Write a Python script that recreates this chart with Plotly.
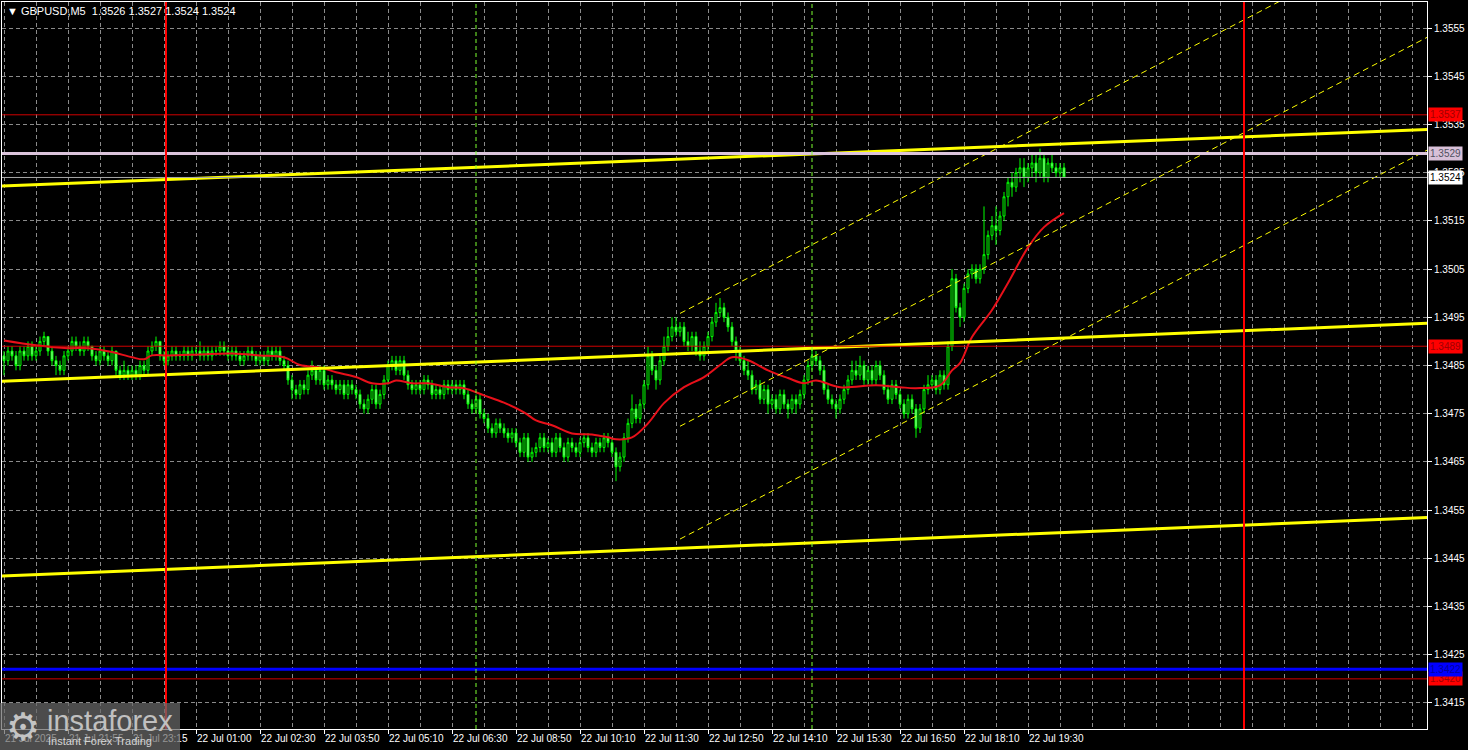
import plotly.graph_objects as go

W, H = 1468, 750
ML, MR, MT, MB = 2, 41, 2, 21

# ---------------- data ----------------
symbol_title = "GBPUSD,M5"
first_open = 1.3487

close = [
    1.3486, 1.3488, 1.3487, 1.3485, 1.3488, 1.3487, 1.3489, 1.3487,
    1.3488, 1.3490, 1.3491, 1.3488, 1.3486, 1.3485, 1.3484, 1.3487,
    1.3488, 1.3490, 1.3489, 1.3488, 1.3490, 1.3489, 1.3487, 1.3486,
    1.3488, 1.3487, 1.3486, 1.3488, 1.3484, 1.3483, 1.3484, 1.3483,
    1.3484, 1.3483, 1.3485, 1.3484, 1.3488, 1.3489, 1.3490, 1.3487,
    1.3486, 1.3487, 1.3488, 1.3487, 1.3487, 1.3488, 1.3487, 1.3488,
    1.3488, 1.3487, 1.3488, 1.3487, 1.3488, 1.3488, 1.3489, 1.3488,
    1.3487, 1.3488, 1.3487, 1.3486, 1.3487, 1.3488, 1.3487, 1.3486,
    1.3487, 1.3486, 1.3488, 1.3487, 1.3488, 1.3486, 1.3485, 1.3482,
    1.3480, 1.3479, 1.3481, 1.3480, 1.3483, 1.3484, 1.3482, 1.3484,
    1.3481, 1.3482, 1.3481, 1.3480, 1.3481, 1.3479, 1.3481, 1.3480,
    1.3479, 1.3477, 1.3476, 1.3478, 1.3480, 1.3477, 1.3479, 1.3482,
    1.3485, 1.3486, 1.3484, 1.3486, 1.3483, 1.3481, 1.3480, 1.3481,
    1.3480, 1.3482, 1.3481, 1.3479, 1.3480, 1.3479, 1.3481, 1.3480,
    1.3481, 1.3480, 1.3481, 1.3479, 1.3477, 1.3476, 1.3478, 1.3475,
    1.3474, 1.3472, 1.3471, 1.3473, 1.3472, 1.3471, 1.3470, 1.3471,
    1.3469, 1.3467, 1.3470, 1.3466, 1.3467, 1.3468, 1.3470, 1.3468,
    1.3469, 1.3467, 1.3470, 1.3468, 1.3466, 1.3469, 1.3468, 1.3467,
    1.3469, 1.3470, 1.3468, 1.3467, 1.3469, 1.3468, 1.3470, 1.3469,
    1.3467, 1.3464, 1.3466, 1.3470, 1.3473, 1.3476, 1.3474, 1.3477,
    1.3481, 1.3487, 1.3484, 1.3482, 1.3486, 1.3489, 1.3491, 1.3493,
    1.3492, 1.3493, 1.3490, 1.3489, 1.3491, 1.3488, 1.3487, 1.3489,
    1.3491, 1.3494, 1.3496, 1.3497, 1.3495, 1.3493, 1.3490, 1.3488,
    1.3486, 1.3484, 1.3483, 1.3480, 1.3481, 1.3478, 1.3480, 1.3477,
    1.3478, 1.3476, 1.3479, 1.3477, 1.3476, 1.3478, 1.3477, 1.3479,
    1.3482, 1.3485, 1.3487, 1.3486, 1.3484, 1.3480, 1.3478, 1.3477,
    1.3476, 1.3478, 1.3480, 1.3482, 1.3484, 1.3483, 1.3485, 1.3482,
    1.3484, 1.3482, 1.3485, 1.3483, 1.3480, 1.3478, 1.3481, 1.3479,
    1.3477, 1.3475, 1.3478, 1.3476, 1.3472, 1.3476, 1.3480, 1.3481,
    1.3482, 1.3480, 1.3483, 1.3481, 1.3489, 1.3503, 1.3497, 1.3495,
    1.3501, 1.3504, 1.3505, 1.3503, 1.3505, 1.3508, 1.3512, 1.3514,
    1.3513, 1.3516, 1.3520, 1.3523, 1.3522, 1.3525, 1.3526, 1.3524,
    1.3526, 1.3527, 1.3525, 1.3528, 1.3524, 1.3527, 1.3526, 1.3525,
    1.3526, 1.3524,
]

high = [
    1.3488, 1.3489, 1.3489, 1.3488, 1.3489, 1.3489, 1.3490, 1.3490,
    1.3489, 1.3491, 1.3492, 1.3491, 1.3489, 1.3487, 1.3486, 1.3488,
    1.3489, 1.3491, 1.3491, 1.3490, 1.3491, 1.3491, 1.3489, 1.3488,
    1.3489, 1.3489, 1.3488, 1.3489, 1.3488, 1.3485, 1.3486, 1.3485,
    1.3485, 1.3485, 1.3486, 1.3486, 1.3489, 1.3490, 1.3491, 1.3490,
    1.3488, 1.3488, 1.3489, 1.3489, 1.3488, 1.3489, 1.3489, 1.3489,
    1.3489, 1.3490, 1.3489, 1.3489, 1.3489, 1.3489, 1.3490, 1.3490,
    1.3489, 1.3489, 1.3489, 1.3488, 1.3488, 1.3489, 1.3489, 1.3488,
    1.3488, 1.3488, 1.3489, 1.3489, 1.3489, 1.3489, 1.3487, 1.3486,
    1.3483, 1.3481, 1.3482, 1.3482, 1.3484, 1.3486, 1.3485, 1.3485,
    1.3485, 1.3483, 1.3483, 1.3482, 1.3482, 1.3482, 1.3482, 1.3482,
    1.3481, 1.3480, 1.3478, 1.3479, 1.3481, 1.3481, 1.3480, 1.3483,
    1.3486, 1.3487, 1.3487, 1.3487, 1.3487, 1.3484, 1.3482, 1.3482,
    1.3482, 1.3483, 1.3483, 1.3482, 1.3481, 1.3481, 1.3482, 1.3482,
    1.3482, 1.3482, 1.3482, 1.3482, 1.3480, 1.3478, 1.3479, 1.3479,
    1.3476, 1.3475, 1.3473, 1.3474, 1.3474, 1.3473, 1.3472, 1.3472,
    1.3472, 1.3470, 1.3471, 1.3471, 1.3468, 1.3469, 1.3471, 1.3471,
    1.3470, 1.3470, 1.3471, 1.3471, 1.3469, 1.3470, 1.3470, 1.3469,
    1.3470, 1.3471, 1.3471, 1.3469, 1.3470, 1.3470, 1.3471, 1.3471,
    1.3470, 1.3468, 1.3467, 1.3471, 1.3474, 1.3479, 1.3477, 1.3478,
    1.3482, 1.3489, 1.3488, 1.3485, 1.3487, 1.3491, 1.3493, 1.3495,
    1.3495, 1.3494, 1.3494, 1.3492, 1.3492, 1.3492, 1.3490, 1.3490,
    1.3492, 1.3495, 1.3498, 1.3499, 1.3498, 1.3496, 1.3494, 1.3491,
    1.3489, 1.3487, 1.3486, 1.3484, 1.3482, 1.3482, 1.3481, 1.3481,
    1.3479, 1.3479, 1.3480, 1.3480, 1.3478, 1.3479, 1.3479, 1.3480,
    1.3483, 1.3486, 1.3489, 1.3488, 1.3487, 1.3485, 1.3481, 1.3479,
    1.3478, 1.3479, 1.3481, 1.3483, 1.3486, 1.3486, 1.3487, 1.3486,
    1.3485, 1.3485, 1.3486, 1.3486, 1.3484, 1.3481, 1.3482, 1.3482,
    1.3480, 1.3478, 1.3479, 1.3479, 1.3477, 1.3477, 1.3481, 1.3483,
    1.3483, 1.3483, 1.3484, 1.3484, 1.3490, 1.3505, 1.3504, 1.3498,
    1.3502, 1.3505, 1.3506, 1.3506, 1.3506, 1.3518, 1.3513, 1.3516,
    1.3518, 1.3517, 1.3521, 1.3524, 1.3525, 1.3526, 1.3528, 1.3528,
    1.3527, 1.3529, 1.3529, 1.3530, 1.3529, 1.3528, 1.3529, 1.3527,
    1.3527, 1.3527,
]

low = [
    1.3483, 1.3485, 1.3486, 1.3484, 1.3484, 1.3486, 1.3486, 1.3486,
    1.3486, 1.3487, 1.3489, 1.3487, 1.3485, 1.3483, 1.3483, 1.3483,
    1.3486, 1.3487, 1.3488, 1.3487, 1.3487, 1.3488, 1.3486, 1.3485,
    1.3485, 1.3486, 1.3485, 1.3485, 1.3483, 1.3482, 1.3482, 1.3482,
    1.3482, 1.3482, 1.3482, 1.3483, 1.3483, 1.3487, 1.3488, 1.3486,
    1.3485, 1.3485, 1.3486, 1.3486, 1.3486, 1.3486, 1.3486, 1.3486,
    1.3487, 1.3486, 1.3486, 1.3486, 1.3486, 1.3487, 1.3487, 1.3487,
    1.3486, 1.3486, 1.3486, 1.3485, 1.3485, 1.3486, 1.3486, 1.3485,
    1.3485, 1.3485, 1.3485, 1.3486, 1.3486, 1.3485, 1.3484, 1.3481,
    1.3478, 1.3478, 1.3478, 1.3479, 1.3479, 1.3482, 1.3481, 1.3481,
    1.3480, 1.3480, 1.3480, 1.3479, 1.3479, 1.3478, 1.3478, 1.3479,
    1.3478, 1.3476, 1.3475, 1.3475, 1.3477, 1.3476, 1.3476, 1.3478,
    1.3481, 1.3484, 1.3483, 1.3483, 1.3482, 1.3480, 1.3479, 1.3479,
    1.3479, 1.3479, 1.3480, 1.3478, 1.3478, 1.3478, 1.3478, 1.3479,
    1.3479, 1.3479, 1.3479, 1.3478, 1.3476, 1.3475, 1.3475, 1.3474,
    1.3473, 1.3471, 1.3470, 1.3470, 1.3471, 1.3470, 1.3469, 1.3469,
    1.3468, 1.3466, 1.3466, 1.3465, 1.3465, 1.3466, 1.3467, 1.3467,
    1.3467, 1.3466, 1.3466, 1.3467, 1.3465, 1.3465, 1.3467, 1.3466,
    1.3466, 1.3468, 1.3467, 1.3466, 1.3466, 1.3467, 1.3467, 1.3468,
    1.3466, 1.3461, 1.3463, 1.3465, 1.3469, 1.3472, 1.3473, 1.3473,
    1.3476, 1.3480, 1.3483, 1.3480, 1.3481, 1.3485, 1.3488, 1.3490,
    1.3491, 1.3491, 1.3489, 1.3488, 1.3488, 1.3487, 1.3486, 1.3486,
    1.3488, 1.3490, 1.3493, 1.3495, 1.3494, 1.3492, 1.3489, 1.3486,
    1.3485, 1.3483, 1.3482, 1.3479, 1.3479, 1.3477, 1.3477, 1.3475,
    1.3476, 1.3475, 1.3475, 1.3476, 1.3474, 1.3475, 1.3475, 1.3476,
    1.3478, 1.3481, 1.3484, 1.3485, 1.3483, 1.3479, 1.3477, 1.3476,
    1.3474, 1.3475, 1.3477, 1.3479, 1.3481, 1.3482, 1.3482, 1.3481,
    1.3481, 1.3481, 1.3481, 1.3482, 1.3479, 1.3477, 1.3477, 1.3478,
    1.3476, 1.3474, 1.3474, 1.3475, 1.3470, 1.3471, 1.3475, 1.3479,
    1.3480, 1.3479, 1.3479, 1.3480, 1.3480, 1.3488, 1.3496, 1.3493,
    1.3494, 1.3500, 1.3503, 1.3502, 1.3502, 1.3504, 1.3507, 1.3511,
    1.3510, 1.3512, 1.3515, 1.3518, 1.3520, 1.3521, 1.3523, 1.3522,
    1.3523, 1.3524, 1.3523, 1.3524, 1.3523, 1.3523, 1.3525, 1.3524,
    1.3524, 1.3524,
]

open_ = [first_open] + close[:-1]
bars = list(range(len(close)))

# moving average (red), sampled along the curve
ma_bar = [0, 8, 16, 21, 27, 32, 35, 37, 41, 49, 57, 64, 70, 74, 79, 83, 88, 92, 96, 98,
          102, 106, 111, 115, 120, 125, 130, 133, 137, 142, 147, 151, 153, 157, 161, 165,
          170, 175, 179, 182, 186, 191, 196, 200, 203, 209, 218, 224, 228, 234, 237, 239,
          242, 247, 251, 256, 260, 265]
ma_val = [1.34902, 1.34892, 1.34886, 1.34886, 1.34878, 1.34867, 1.34863, 1.34871, 1.34871,
          1.34873, 1.34875, 1.34871, 1.34867, 1.34851, 1.34846, 1.34836, 1.34826, 1.34813,
          1.34813, 1.34819, 1.34813, 1.34813, 1.34805, 1.34803, 1.34788, 1.34773, 1.34753,
          1.34736, 1.34726, 1.34709, 1.34707, 1.34701, 1.34697, 1.34701, 1.34730, 1.34772,
          1.34805, 1.34826, 1.34851, 1.34867, 1.34861, 1.34840, 1.34824, 1.34813, 1.34819,
          1.34805, 1.34809, 1.34805, 1.34803, 1.34809, 1.34840, 1.34855, 1.34909, 1.34965,
          1.35021, 1.35095, 1.35137, 1.35166]

# yellow trend lines (thick)
trend_bar = [-1, 357]
trend_upper = [1.35222, 1.35340]
trend_middle = [1.34817, 1.34938]
trend_lower = [1.34413, 1.34535]

# yellow regression channel (thin dashed)
chan_bar = [169, 357]
chan_upper = [1.34958, 1.35770]
chan_middle = [1.34724, 1.35536]
chan_lower = [1.34490, 1.35302]

red_levels = [1.3537, 1.3489, 1.3420]
blue_level = 1.3422
pink_level = 1.3529
bid_level = close[-1]

red_vlines = [40.5, 310]
green_vlines = [118, 202]

xtick_bars = [0, 16, 32, 48, 64, 80, 96, 112, 128, 144, 160, 176, 192, 208, 224, 240, 256]
xtick_labels = ["21 Jul 2025", "21 Jul 21:55", "21 Jul 23:15", "22 Jul 01:00", "22 Jul 02:30",
                "22 Jul 03:50", "22 Jul 05:10", "22 Jul 06:30", "22 Jul 08:50", "22 Jul 10:10",
                "22 Jul 11:30", "22 Jul 12:50", "22 Jul 14:10", "22 Jul 15:30", "22 Jul 16:50",
                "22 Jul 18:10", "22 Jul 19:30"]
ytick_vals = [1.3415, 1.3425, 1.3435, 1.3445, 1.3455, 1.3465, 1.3475, 1.3485,
              1.3495, 1.3505, 1.3515, 1.3525, 1.3535, 1.3545, 1.3555]

x_range = [-0.5, 355.75]
y_range = [1.34096, 1.35604]

# ---------------- helpers (pixel -> paper, for decoration only) ----------------
PW = W - ML - MR
PH = H - MT - MB


def px_x(px):
    return (px - ML) / PW


def px_y(py):
    return (H - MB - py) / PH


FONT = "Liberation Sans"
GRID = "#8a8a8a"
GDASH = "4px,3px"

fig = go.Figure()

fig.add_trace(go.Candlestick(
    x=bars, open=open_, high=high, low=low, close=close,
    increasing=dict(line=dict(color="#00ff00", width=1), fillcolor="#000000"),
    decreasing=dict(line=dict(color="#00ff00", width=1), fillcolor="#a8f8a8"),
    whiskerwidth=0, hoverinfo="skip", showlegend=False,
))

fig.add_trace(go.Scatter(x=ma_bar, y=ma_val, mode="lines", line=dict(color="#e8101a", width=2, shape="spline"),
                         hoverinfo="skip", showlegend=False))

for arr in (trend_upper, trend_middle, trend_lower):
    fig.add_trace(go.Scatter(x=trend_bar, y=arr, mode="lines", line=dict(color="#ffff00", width=3),
                             hoverinfo="skip", showlegend=False))

for arr in (chan_upper, chan_middle, chan_lower):
    fig.add_trace(go.Scatter(x=chan_bar, y=arr, mode="lines",
                             line=dict(color="#ffff00", width=1, dash="6px,4px"),
                             hoverinfo="skip", showlegend=False))

# horizontal levels
for lv in red_levels:
    fig.add_hline(y=lv, line=dict(color="#d00000", width=1))
fig.add_hline(y=blue_level, line=dict(color="#0000ff", width=3))
fig.add_hline(y=pink_level, line=dict(color="#dcc4dc", width=3))
fig.add_hline(y=bid_level, line=dict(color="#a8a8a8", width=1))

# vertical lines
for vx in red_vlines:
    fig.add_vline(x=vx, line=dict(color="#ff0000", width=2))
for vx in green_vlines:
    fig.add_vline(x=vx, line=dict(color="#7cff30", width=1, dash="4px,3px"))

# right-side price labels
annotations = []


def price_label(level, bg, fg):
    annotations.append(dict(
        x=1, xref="paper", xanchor="left", xshift=1,
        y=level, yref="y", yanchor="middle",
        text=f"{level:.4f}", showarrow=False,
        bgcolor=bg, font=dict(family=FONT, size=10, color=fg),
        borderpad=1,
    ))


for lv in red_levels:
    price_label(lv, "#ff0000", "#a00000")
price_label(blue_level, "#0000ff", "#0000a0")
price_label(pink_level, "#d8c0d8", "#505060")
price_label(bid_level, "#ffffff", "#000000")

# title
annotations.append(dict(
    x=px_x(5), xref="paper", xanchor="left", y=px_y(11), yref="paper", yanchor="middle",
    text=f"\u25bc\u00a0{symbol_title}\u00a0\u00a0{open_[-1]:.4f} {high[-1]:.4f} {low[-1]:.4f} {close[-1]:.4f}",
    showarrow=False, font=dict(family=FONT, size=11, color="#ffffff"),
))

# watermark logo
annotations.append(dict(
    x=px_x(23), xref="paper", xanchor="center", y=px_y(727), yref="paper", yanchor="middle",
    text="\u2699", showarrow=False, font=dict(family="DejaVu Sans", size=38, color="#c4c4c4"),
))
annotations.append(dict(
    x=px_x(45), xref="paper", xanchor="left", y=px_y(721), yref="paper", yanchor="middle",
    text="instaforex", showarrow=False, font=dict(family=FONT, size=29, color="#c0c0c0"),
))
annotations.append(dict(
    x=px_x(46), xref="paper", xanchor="left", y=px_y(741), yref="paper", yanchor="middle",
    text="Instant Forex Trading", showarrow=False, font=dict(family=FONT, size=11, color="#d4d4d4"),
))

shapes = [dict(
    type="rect", xref="paper", yref="paper",
    x0=px_x(0), x1=px_x(180), y0=px_y(750), y1=px_y(703),
    fillcolor="rgba(105,105,105,0.72)", line=dict(width=0), layer="above",
)]

fig.update_layout(
    width=W, height=H, template="none",
    margin=dict(l=ML, r=MR, t=MT, b=MB, pad=0),
    paper_bgcolor="#000000", plot_bgcolor="#000000",
    showlegend=False, hovermode=False,
    annotations=annotations, shapes=list(fig.layout.shapes) + shapes,
    xaxis=dict(
        range=x_range, autorange=False, automargin=False, fixedrange=True,
        rangeslider=dict(visible=False),
        tickmode="array", tickvals=xtick_bars, ticktext=xtick_labels,
        ticklabelposition="outside right",
        ticks="outside", ticklen=4, tickcolor="#ffffff", tickwidth=1,
        tickfont=dict(family=FONT, size=10, color="#ffffff"),
        showgrid=True, gridcolor=GRID, griddash=GDASH, gridwidth=1,
        minor=dict(tickmode="linear", tick0=0, dtick=8, showgrid=True,
                   gridcolor=GRID, griddash=GDASH, gridwidth=1, ticks=""),
        showline=True, linecolor="#ffffff", linewidth=1, mirror=True, zeroline=False,
    ),
    yaxis=dict(
        range=y_range, autorange=False, automargin=False, fixedrange=True, side="right",
        tickmode="array", tickvals=ytick_vals, ticktext=[f"{v:.4f}" for v in ytick_vals],
        ticks="outside", ticklen=4, tickcolor="#ffffff", tickwidth=1,
        tickfont=dict(family=FONT, size=10, color="#ffffff"),
        showgrid=True, gridcolor=GRID, griddash=GDASH, gridwidth=1,
        showline=True, linecolor="#ffffff", linewidth=1, mirror=True, zeroline=False,
    ),
)

page_fix = ("document.body.style.margin='0';document.body.style.padding='0';"
            "document.body.style.overflow='hidden';"
            "document.documentElement.style.overflow='hidden';")

fig.write_html("out.html", post_script=page_fix,
               config={"displayModeBar": False, "staticPlot": True})
